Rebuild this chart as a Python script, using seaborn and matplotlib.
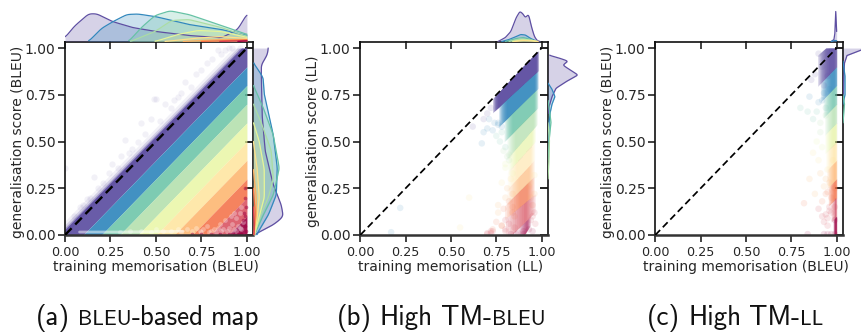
import numpy as np
import matplotlib
matplotlib.use("Agg")
import matplotlib.pyplot as plt
import seaborn as sns

sns.set_style("ticks")
plt.rcParams['font.family'] = ['DejaVu Sans']

W, H = 861, 332
class_colors = ["#5e4fa2", "#3288bd", "#66c2a5", "#abdda4", "#e6f598",
                "#fee08b", "#fdae61", "#f46d43", "#d53e4f", "#9e0142"]
palette = sns.color_palette(class_colors)
ticks = [0.0, 0.25, 0.5, 0.75, 1.0]

# ---- panel a: diagonal bands, offset below the identity line
a_offsets = [-0.03, 0.1, 0.2, 0.3, 0.4, 0.5, 0.6, 0.7, 0.8, 0.9, 1.0]
a_alpha = [0.93, 0.92, 0.85, 0.8, 0.75, 0.72, 0.8, 0.85, 0.8, 0.9]
a_halo_offset = [0.04, 0.055, 0.075]
a_halo_alpha = [0.4, 0.2, 0.08]
a_fringe_x = [.49,.50,.42,.33,.26,.16,.0,.66,.72,.78,.84,.55,.60,.47,.37,.29,.21,.12,.08,.05,.69,.75,.81,.88,.92,.58,.44,.40,.31,.24,.18,.14,.64,.52,.35,.90,.96,.86,.62,.10]
a_fringe_y = [.73,.73,.60,.51,.38,.31,.36,.82,.86,.92,.99,.70,.72,.62,.46,.36,.28,.19,.15,.10,.79,.88,.94,.99,1.0,.68,.54,.50,.42,.33,.25,.20,.76,.61,.44,1.0,1.0,.97,.74,.16]
a_low_x = [.30,.36,.42,.47,.50,.54,.58,.62,.64,.67,.70,.72,.74,.76,.78,.80,.82,.84,.85,.87,.88,.90,.91,.92,.93,.94,.95,.96,.97,.98,.86,.89,.83,.94,.97,.91,.79,.75,.93,.96]
a_low_y = [.015,.02,.02,.015,.03,.02,.02,.03,.015,.03,.02,.04,.02,.03,.05,.02,.03,.04,.06,.03,.08,.04,.10,.06,.03,.09,.05,.12,.03,.07,.02,.02,.015,.02,.15,.015,.015,.015,.12,.04]
a_strip_x = [.08, .3, .5, .65]
a_strip_y = [.016, .016, .018, .02]
a_red_x = [.99,.995,.985,.98,.99,.995,.97,.99,.95,.90,.85,.99,.80,.75,.70,.92,.97]
a_red_y = [.20,.15,.12,.08,.05,.02,.005,.10,.005,.005,.005,.25,.004,.004,.003,.004,.004]

# ---- panels b/c: band outlines read per class (mem range, lower edge, upper edge)
b_x0 = [.745,.785,.815,.83,.835,.835,.84,.835,.85,.89]
b_x1 = [.975,.97,.968,.965,.955,.95,.945,.94,.94,.93]
b_low0 = [.668,.60,.52,.43,.36,.27,.20,.115,.015,-.02]
b_low1 = [.873,.775,.67,.58,.49,.39,.30,.20,.10,.04]
b_alpha = [.95,.9,.8,.65,.55,.45,.55,.7,.65,.6]
b_top_x = [.70,.765,.885,.975,.99]
b_top_y = [.70,.765,.89,.98,.99]
b_pad = [.016,.022,.022,.022,.022,.024,.03,.04,.05,.02]
b_pts_x = [.70,.72,.68,.71,.74,.76,.70,.73,.75,.78,.77,.80,.79,.81,.78,.82,.76,.80,.84,.62,.68,.67,.82,.80,.83,.81,.78,.80,.76,.82,.79,.84,.80,.82,.85,.75,.78,.80,.72,.70,.73,.96,.95,.95,.94,.96,.965,.93,.95,.96,.94,.90,.86,.83,.87,.78,.76,.73,.72,.70,.84,.84,.85,.80,.93,.94,.90,.17,.22,.60,.55]
b_pts_y = [.65,.68,.62,.62,.60,.59,.57,.56,.53,.55,.50,.47,.45,.42,.58,.40,.60,.36,.33,.58,.55,.49,.43,.38,.30,.25,.28,.20,.16,.18,.14,.12,.08,.06,.04,.07,.05,.03,.01,.005,.02,.22,.16,.10,.28,.32,.06,.03,.02,.12,.08,.005,.005,.005,.01,.05,.12,.03,.02,.01,.22,.15,.10,.02,.26,.20,.02,.015,.145,.2,.04]
b_pts_c = [0,0,0,1,1,1,1,1,2,2,2,2,3,3,1,3,1,4,4,0,1,1,3,4,5,6,5,6,6,7,7,7,8,8,8,7,7,8,8,8,8,6,7,8,5,5,8,9,9,8,8,9,9,9,9,7,6,7,8,8,6,7,7,8,6,6,9,1,1,5,5]

c_x0 = [.925,.94,.95,.955,.955,.96,.965,.97,.98,.985]
c_x1 = [1.0,1.0,1.0,1.0,1.0,1.0,1.0,1.0,1.0,1.0]
c_low0 = [.825,.74,.65,.555,.455,.36,.265,.17,.08,-.02]
c_low1 = [.90,.80,.70,.60,.50,.40,.30,.20,.10,.01]
c_alpha = [.9,.85,.75,.65,.65,.55,.7,.8,.6,.8]
c_top_x = [.88,.94,1.0]
c_top_y = [.95,1.0,1.0]
c_pad = [.03,.028,.024,.022,.02,.02,.02,.016,.012,.005]
c_pts_x = [.90,.92,.88,.86,.85,.92,.80,.90,.89,.93,.84,.87,.91,.94,.95,.93,.91,.89,.94,.96,.87,.90,.92,.85,.82,.88,.93,.95,.94,.92,.90,.95,.96,.97,.94,.92,.95,.96,.93,.95,.97,.93,.95,.97,.99,.94,.96,.91,.98,.99,.99,.99,.84]
c_pts_y = [.97,.90,.86,.83,.74,.72,.68,.71,.66,.80,.66,.62,.60,.64,.85,.76,.55,.50,.68,.78,.44,.40,.47,.30,.17,.22,.26,.35,.30,.18,.14,.23,.13,.20,.11,.10,.09,.15,.07,.05,.12,.005,.005,.005,.005,.22,.28,.33,.40,.25,.15,.08,.005]
c_pts_c = [0,0,0,0,1,1,2,1,2,0,2,2,3,3,0,1,3,4,2,1,5,5,4,6,7,6,6,5,6,7,8,7,8,7,8,8,8,8,8,8,8,9,9,9,9,7,6,6,5,7,8,9,9]
c_strip_x = [.993, .993, .993]
c_strip_y = [.0, .1, .2]

# ---- marginals (relative height; class index, positions, heights)
a_top = [
    ([0,.05,.13,.175,.26,.37,.5,.68,.86,.95,1.0],[3.7,15,27.7,27.7,20,14,10,6,3.7,12,27.7]),
    ([.13,.2,.265,.34,.4,.495,.68,.86,1.0],[0,13,20,27,27.5,25,17,12,6]),
    ([.35,.42,.495,.577,.68,.86,1.0],[0,14,26,30.7,27,16,7]),
    ([.36,.495,.586,.68,.86,1.0],[0,10,21,22,14,5]),
    ([.495,.62,.73,.86,1.0],[0,7,11,10,4]),
    ([.55,.7,.85,1.0],[0,3,5,3]),
    ([.65,.85,1.0],[0,2,2]),
    ([.75,.9,1.0],[0,1,1.5]),
    ([.85,1.0],[0,1]),
    ([.95,1.0],[0,.6]),
]
a_right = [
    ([1.0,.964,.91,.84,.625,.446,.268,.16,.098,.054,0],[15,14,8,8,9,12,20,28,30,20,0]),
    ([.92,.875,.84,.75,.535,.357,.214,.107,0],[0,6,10,11,20,24,23,15,3]),
    ([.80,.68,.535,.357,.214,.107,0],[0,10,20,26,20,10,1]),
    ([.70,.6,.45,.3,.2,.1,0],[0,8,18,20,15,7,1]),
    ([.6,.5,.35,.2,.1,0],[0,6,11,11,6,1]),
    ([.5,.35,.2,.1,0],[0,4,6,4,1]),
    ([.35,.2,.1,0],[0,3,3,.5]),
    ([.25,.12,0],[0,2,.5]),
    ([.15,.05,0],[0,1,.5]),
]
b_top = [
    ([.76,.80,.83,.86,.88,.895,.91,.928,.945,.96,.975,.99],[0,4,10,24,30,28,24,27,14,5,1,0]),
    ([.78,.82,.86,.885,.91,.94,.97],[0,2,5,7,6.5,3,.5]),
    ([.8,.86,.9,.94,.97],[0,3,4,2,0]),
    ([.82,.88,.94,.97],[0,2.5,1.5,0]),
    ([.84,.89,.95,.98],[0,1.5,1,0]),
    ([.85,.9,.95,.98],[0,1,.5,0]),
]
b_right = [
    ([.963,.945,.93,.909,.89,.856,.82,.785,.74,.685,.65],[0,12,20,15,20,30,18,8,4,1,0]),
    ([.812,.78,.74,.70,.65,.6,.5],[0,4,7,4,2,1,.3]),
    ([.72,.65,.6,.5,.4],[0,2,3,1,0]),
    ([.6,.5,.4,.3],[0,1.5,1,0]),
]
c_top = [
    ([.97,.985,.99,.995,1.0],[0,2,8,30,10]),
    ([.97,.99,1.0],[0,1,.8]),
]
c_right = [
    ([1.0,.993,.96,.92,.85,.7],[30,20,4,1.5,.8,0]),
    ([.93,.85,.75,.7],[0,2,2,0]),
    ([.75,.7,.6],[0,1.5,0]),
]


def px_axes(fig, left, top, right, bottom):
    return fig.add_axes([left / W, 1 - bottom / H, (right - left) / W, (bottom - top) / H])


def style_main(ax, xlabel, ylabel):
    ax.set_xlim(0, 1.035)
    ax.set_ylim(0, 1.035)
    ax.set_xticks(ticks)
    ax.set_yticks(ticks)
    ax.set_xticklabels([f"{t:.2f}" for t in ticks])
    ax.set_yticklabels([f"{t:.2f}" for t in ticks])
    ax.tick_params(axis='both', which='both', direction='out', length=5, width=1.2, color='#222222',
                   labelcolor='#262626')
    ax.tick_params(axis='x', labelsize=9.2, pad=3)
    ax.tick_params(axis='y', labelsize=10, pad=2)
    ax.set_xlabel(xlabel, fontsize=10, labelpad=1, color='#262626', x=0.483)
    ax.set_ylabel(ylabel, fontsize=10, labelpad=0, color='#262626', y=0.483)
    for side in ['top', 'right', 'left']:
        ax.spines[side].set_linewidth(1.2)
        ax.spines[side].set_color('#111111')
        ax.spines[side].set_visible(True)
    ax.spines['bottom'].set_linewidth(1.8)
    ax.spines['bottom'].set_color('#333333')
    tx = ax.secondary_xaxis('top')
    tx.set_xticks(ticks)
    tx.set_xticklabels([])
    tx.tick_params(direction='in', length=5.5, width=1.2, color='#222222')
    tx.spines['top'].set_visible(False)
    ty = ax.secondary_yaxis('right')
    ty.set_yticks(ticks)
    ty.set_yticklabels([])
    ty.tick_params(direction='in', length=5.5, width=1.4, color='#222222')
    ty.spines['right'].set_visible(False)


def rounded(p, h, width):
    """Round off the corners of a read outline between its read values."""
    order = np.argsort(p)
    p, h = np.asarray(p, float)[order], np.asarray(h, float)[order]
    if width == 0:
        return p, h
    fine = np.arange(p[0], p[-1] + 0.001, 0.002)
    vals = np.interp(fine, p, h)
    n = max(1, int(width / 0.002))
    kernel = np.hanning(2 * n + 3)
    kernel /= kernel.sum()
    smooth = np.convolve(np.pad(vals, n + 1, mode='edge'), kernel, mode='valid')
    return fine, smooth


def marginals(ax_t, ax_r, top, right, width):
    for a in (ax_t, ax_r):
        a.set_axis_off()
    ax_t.set_xlim(0, 1.035)
    ax_t.set_ylim(0, 31.5)
    ax_r.set_ylim(0, 1.035)
    ax_r.set_xlim(0, 31.5)
    for i, (p, h) in enumerate(top):
        p, h = rounded(p, h, width)
        sns.lineplot(x=p, y=h, ax=ax_t, color=palette[i], lw=0.9, estimator=None, sort=False, legend=False)
        ax_t.fill_between(p, h, color=palette[i], alpha=0.25, lw=0)
    for i, (p, h) in enumerate(right):
        p, h = rounded(p, h, width)
        sns.lineplot(x=h, y=p, ax=ax_r, color=palette[i], lw=0.9, estimator=None, sort=False, legend=False)
        ax_r.fill_betweenx(p, h, color=palette[i], alpha=0.25, lw=0)


def diag(ax, lw):
    sns.lineplot(x=[0, 1], y=[0, 1], ax=ax, color='black', lw=lw, linestyle=(0, (4, 2.2)), zorder=6, legend=False)


fig = plt.figure(figsize=(W / 100, H / 100), dpi=100)

# ---------- panel a
ax = px_axes(fig, 65, 41.5, 253.3, 235)
grid = np.linspace(0, 1, 201)
for off, al in zip(a_halo_offset, a_halo_alpha):
    ax.fill_between(grid, np.clip(grid, 0, 1), np.clip(grid + off, 0, 1), color=palette[0], alpha=al, lw=0)
for i in range(10):
    lo = np.clip(grid - a_offsets[i + 1], 0, 1)
    hi = np.clip(grid - a_offsets[i], 0, 1)
    ax.fill_between(grid, lo, hi, color=palette[i], alpha=a_alpha[i], lw=0)
sns.scatterplot(x=a_fringe_x, y=a_fringe_y, ax=ax, color=palette[0], alpha=0.08, s=20, linewidth=0, legend=False)
sns.lineplot(x=a_strip_x, y=a_strip_y, ax=ax, color='white', alpha=0.5, lw=2, legend=False)
sns.scatterplot(x=a_low_x, y=a_low_y, ax=ax, color='white', alpha=0.3, s=12, linewidth=0, legend=False)
sns.scatterplot(x=a_red_x, y=a_red_y, ax=ax, color=palette[9], alpha=0.5, s=7, linewidth=0, legend=False)
diag(ax, 1.7)
style_main(ax, "training memorisation (BLEU)", "generalisation score (BLEU)")
marginals(px_axes(fig, 65, 10, 253.3, 41.5), px_axes(fig, 253.3, 41.5, 284.8, 235), a_top, a_right, 0.03)


def stripes(ax, x0, x1, low0, low1, alpha, top_x, top_y, pad):
    layers = 9
    def edge(i, xs):
        return low0[i] + (low1[i] - low0[i]) * (xs - x0[i]) / (x1[i] - x0[i])
    for i in range(10):
        a_layer = 1 - (1 - alpha[i]) ** (1 / layers)
        for k in range(layers):
            f = k / (layers - 1) * 2 - 1
            left = x0[i] + f * pad[i]
            right = min(1.0, x1[i] - f * pad[i] * 0.5)
            xs = np.linspace(left, right, 50)
            lo = np.clip(edge(i, xs), 0, 1)
            hi = np.interp(xs, top_x, top_y) if i == 0 else np.clip(edge(i - 1, xs), 0, 1)
            ax.fill_between(xs, lo, hi, color=palette[i], alpha=a_layer, lw=0)


def scatter_classes(ax, xs, ys, cs, a=0.12, s=22):
    sns.scatterplot(x=xs, y=ys, hue=cs, palette={k: palette[k] for k in set(cs)}, ax=ax,
                    alpha=a, s=s, linewidth=0, legend=False)


# ---------- panel b
ax = px_axes(fig, 360.3, 41.5, 548, 235)
stripes(ax, b_x0, b_x1, b_low0, b_low1, b_alpha, b_top_x, b_top_y, b_pad)
scatter_classes(ax, b_pts_x, b_pts_y, b_pts_c)
diag(ax, 1.25)
style_main(ax, "training memorisation (LL)", "generalisation score (LL)")
marginals(px_axes(fig, 360.3, 10, 548, 41.5), px_axes(fig, 548, 41.5, 579.5, 235), b_top, b_right, 0.008)

# ---------- panel c
ax = px_axes(fig, 655.3, 41.5, 843, 235)
stripes(ax, c_x0, c_x1, c_low0, c_low1, c_alpha, c_top_x, c_top_y, c_pad)
scatter_classes(ax, c_pts_x, c_pts_y, c_pts_c)
sns.lineplot(x=c_strip_x, y=c_strip_y, ax=ax, color=palette[9], alpha=0.6, lw=1.3, legend=False)
diag(ax, 1.25)
style_main(ax, "training memorisation (BLEU)", "generalisation score (BLEU)")
marginals(px_axes(fig, 655.3, 10, 843, 41.5), px_axes(fig, 843, 41.5, 874.5, 235), c_top, c_right, 0)

# ---------- captions, built from pieces so the small-caps words sit on one baseline
captions = [
    (36, [("(a)", 19.5, 8), ("BLEU", 15.5, 0), ("-based", 19.5, 7), ("map", 19.5, 0)]),
    (337, [("(b)", 19.5, 8), ("High", 19.5, 8), ("TM-", 19.5, 0), ("BLEU", 15.5, 0)]),
    (647, [("(c)", 19.5, 8), ("High", 19.5, 8), ("TM-", 19.5, 0), ("LL", 15.5, 0)]),
]
fig.canvas.draw()
rend = fig.canvas.get_renderer()
for x, parts in captions:
    for s, size, gap in parts:
        t = fig.text(x / W, 1 - 325 / H, s, fontsize=size, family=['cmss10', 'DejaVu Sans'],
                     va='baseline', color='#111111')
        x += t.get_window_extent(rend).width + gap

fig.savefig("out.png", dpi=100)
